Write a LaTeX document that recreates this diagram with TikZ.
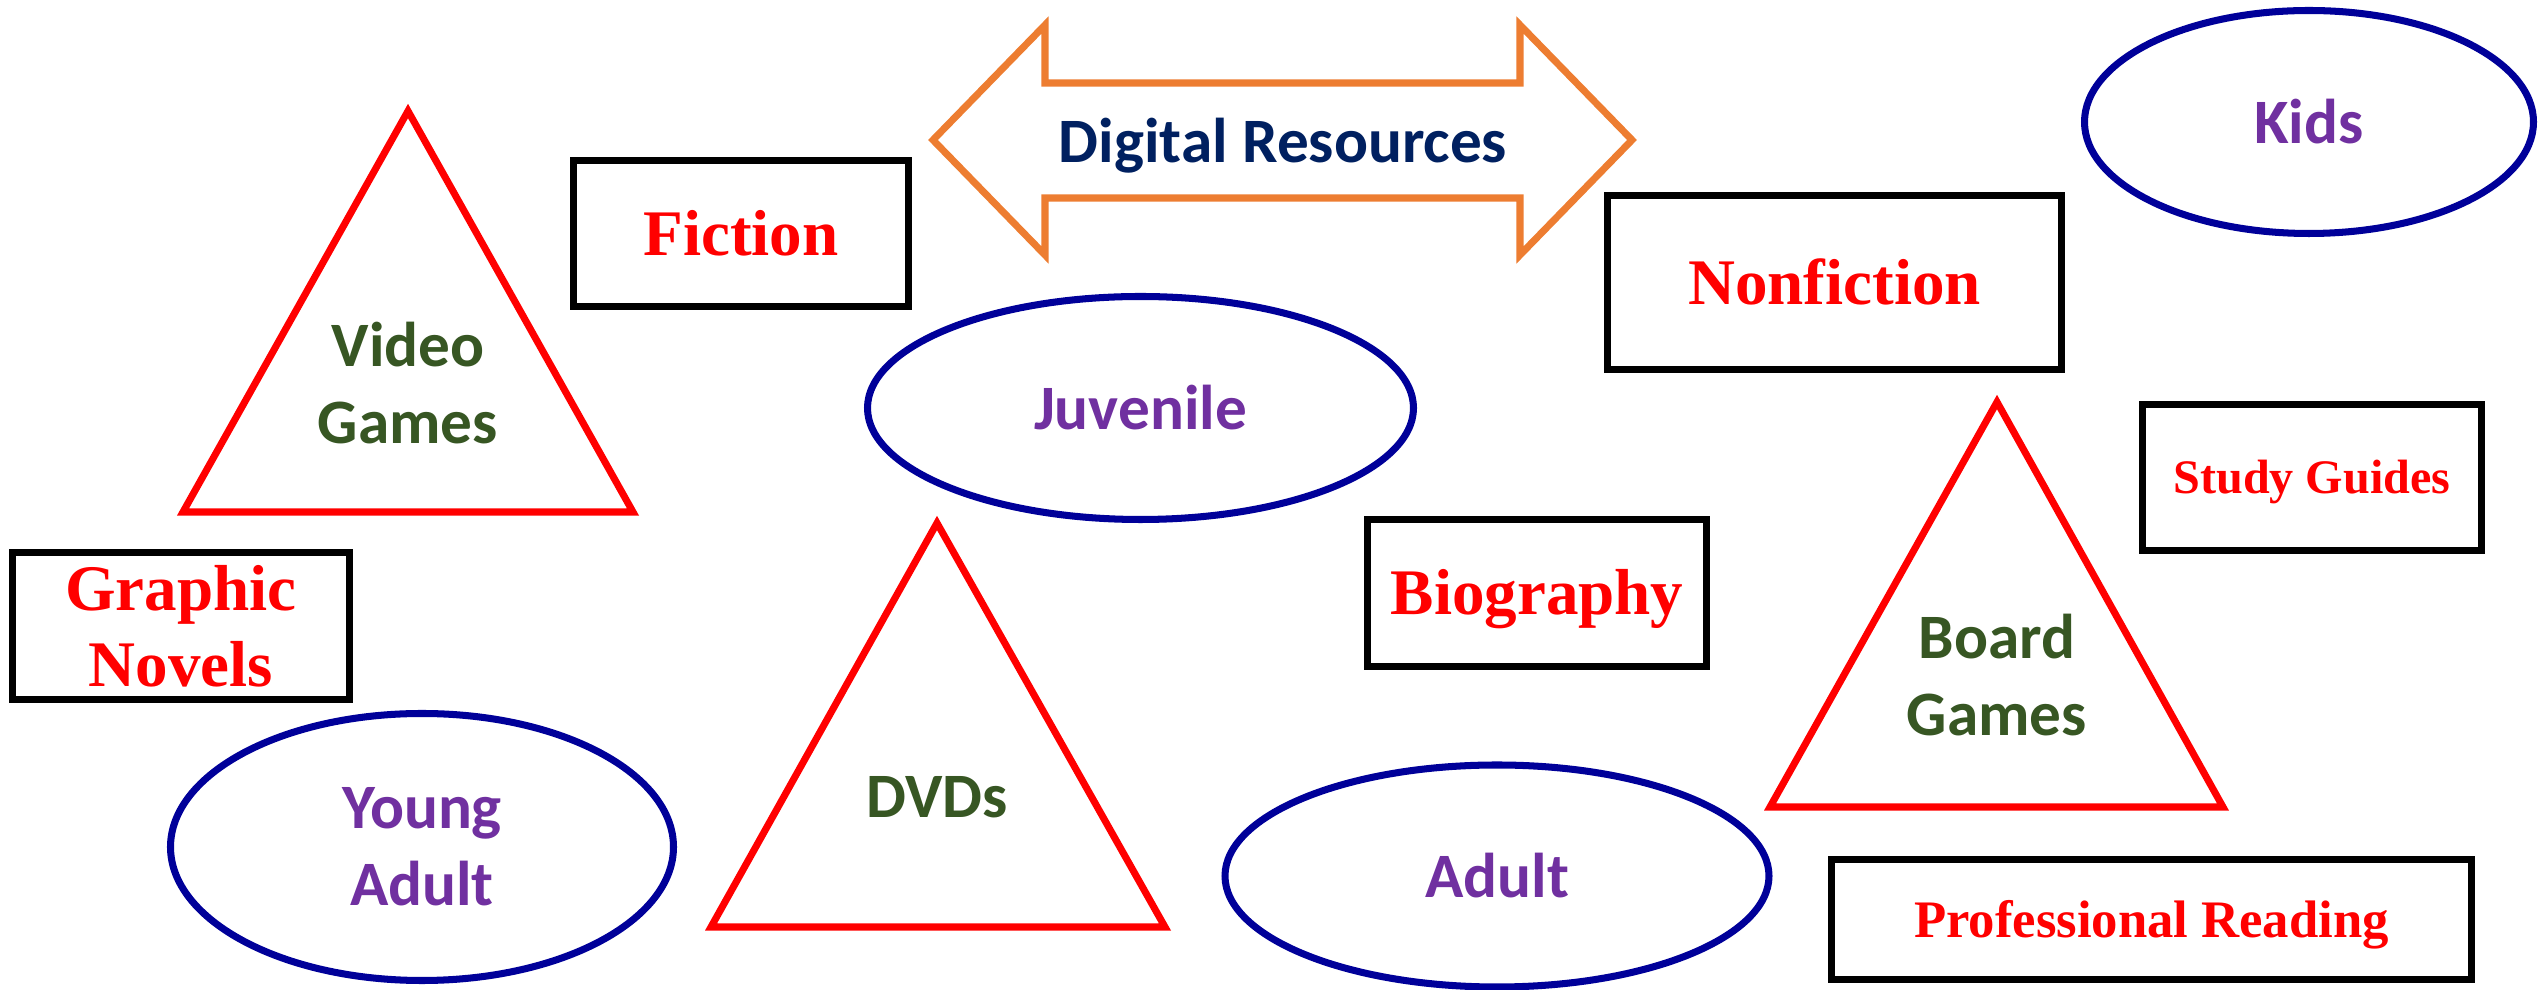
\documentclass[tikz,border=0pt]{standalone}
\usepackage{fontspec}
\setmainfont{Liberation Serif}
\newfontfamily\calibri{Carlito}
\usetikzlibrary{shapes.geometric}

\definecolor{arroworange}{HTML}{ED7D31}
\definecolor{navy}{HTML}{002060}
\definecolor{ovalblue}{HTML}{000099}
\definecolor{agepurple}{HTML}{7030A0}
\definecolor{mediagreen}{HTML}{375623}

\tikzset{
  shelf/.style={draw=black, line width=2pt, rectangle, inner sep=0pt, text=red,
    font=\fontsize{18.5}{21.6}\selectfont\bfseries, align=center},
  oneline/.style={text height=16.5pt, text depth=4pt},
  audience/.style={draw=ovalblue, line width=2pt, ellipse, inner sep=0pt, text=agepurple,
    font=\calibri\bfseries\fontsize{18}{21.9}\selectfont, align=center},
  media/.style={draw=red, line width=2pt, line join=miter},
  medialabel/.style={text=mediagreen, font=\calibri\bfseries\fontsize{18}{21.9}\selectfont, align=center},
}

\begin{document}
\begin{tikzpicture}
  \useasboundingbox (0,0) rectangle (25.39,9.90);

  % double arrow
  \draw[draw=arroworange, line width=2pt, line join=miter]
    (9.33,8.50) -- (10.45,9.65) -- (10.45,9.07) -- (15.20,9.07) -- (15.20,9.65)
    -- (16.32,8.50) -- (15.20,7.35) -- (15.20,7.92) -- (10.45,7.92) -- (10.45,7.35) -- cycle;
  \node[text=navy, font=\calibri\bfseries\fontsize{18}{21.9}\selectfont] (digital) at (12.83,8.44) {Digital Resources};

  % boxes
  \node[shelf, oneline, minimum width=3.35cm, minimum height=1.46cm] (fiction) at (7.41,7.565) {Fiction};
  \node[shelf, oneline, minimum width=4.54cm, minimum height=1.74cm] (nonfiction) at (18.345,7.075) {Nonfiction};
  \node[shelf, minimum width=3.37cm, minimum height=1.47cm] (graphic) at (1.81,3.64) {Graphic\\Novels};
  \node[shelf, minimum width=3.39cm, minimum height=1.46cm, font=\fontsize{13.7}{16}\selectfont\bfseries,
    text height=12.2pt, text depth=3pt] (study) at (23.12,5.125) {Study Guides};
  \node[shelf, oneline, minimum width=3.39cm, minimum height=1.47cm] (biography) at (15.37,3.97) {Biography};
  \node[shelf, minimum width=6.40cm, minimum height=1.20cm, font=\fontsize{15}{18}\selectfont\bfseries,
    text height=13.4pt, text depth=3.3pt] (professional) at (21.515,0.705) {Professional Reading};

  % ellipses
  \node[audience, minimum width=4.49cm, minimum height=2.23cm] (kids) at (23.09,8.68) {Kids};
  \node[audience, minimum width=5.46cm, minimum height=2.23cm] (juvenile) at (11.405,5.82) {Juvenile};
  \node[audience, minimum width=5.03cm, minimum height=2.67cm] (young) at (4.22,1.43) {Young\\Adult};
  \node[audience, minimum width=5.44cm, minimum height=2.22cm] (adult) at (14.97,1.14) {Adult};

  % triangles
  \draw[media] (4.08,8.79) -- (1.83,4.78) -- (6.33,4.78) -- cycle;
  \node[medialabel] (video) at (4.08,6.065) {Video\\Games};
  \draw[media] (9.37,4.67) -- (7.11,0.63) -- (11.65,0.63) -- cycle;
  \node[medialabel] (dvds) at (9.37,1.93) {DVDs};
  \draw[media] (19.97,5.88) -- (17.70,1.83) -- (22.23,1.83) -- cycle;
  \node[medialabel] (board) at (19.97,3.145) {Board\\Games};
\end{tikzpicture}
\end{document}
